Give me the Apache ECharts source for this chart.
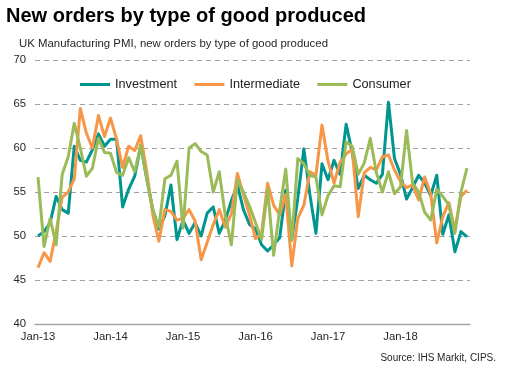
<!DOCTYPE html>
<html><head><meta charset="utf-8">
<script src="https://cdn.jsdelivr.net/npm/echarts@6/dist/echarts.min.js"></script>
<style>html,body{margin:0;padding:0;background:#fff}#c{width:508px;height:371px}</style>
</head><body><div id="c"></div>
<script>
const years = ['13', '14', '15', '16', '17', '18'];
const monthNames = ['Jan', 'Feb', 'Mar', 'Apr', 'May', 'Jun', 'Jul', 'Aug', 'Sep', 'Oct', 'Nov', 'Dec'];
const categories = [];
years.forEach(y => monthNames.forEach(m => categories.push(m + '-' + y)));

const investment = [
  50.0, 50.5, 51.5, 54.5, 53.0, 52.6, 60.2, 58.6, 58.4, 59.8, 61.6, 60.2,
  61.0, 61.0, 53.3, 55.3, 56.8, 60.3, 56.5, 53.0, 50.8, 52.3, 55.8, 49.6,
  51.8, 50.3, 51.5, 50.0, 52.6, 53.3, 50.3, 51.8, 54.0, 55.8, 53.0, 51.3,
  50.8, 49.0, 48.3, 49.0, 49.8, 55.2, 49.6, 54.3, 59.9, 54.7, 50.3, 58.2,
  56.4, 58.6, 57.0, 62.7, 59.5, 55.4, 56.9, 56.4, 56.0, 57.0, 65.2, 58.8,
  57.0, 54.2, 55.5, 56.9, 56.0, 54.6, 56.9, 50.2, 52.4, 48.2, 50.5, 49.9
];
const intermediate = [
  46.4, 48.1, 47.1, 50.5, 54.4, 55.0, 56.5, 64.5, 61.7, 60.0, 63.7, 61.3,
  63.4, 61.0, 57.8, 60.2, 59.7, 61.4, 57.3, 52.4, 49.4, 53.0, 52.8, 51.8,
  52.0, 53.0, 51.7, 47.3, 49.3, 51.3, 53.0, 51.0, 52.5, 57.1, 54.7, 52.4,
  49.7, 50.3, 56.0, 53.5, 52.4, 54.7, 46.6, 52.0, 53.5, 57.3, 56.9, 62.6,
  58.5, 56.0, 58.4, 59.3, 59.9, 52.2, 57.2, 57.8, 57.5, 59.0, 59.2, 57.5,
  56.2, 55.5, 55.8, 54.1, 56.7, 54.8, 49.2, 52.2, 53.8, 50.7, 54.5, 55.2
];
const consumer = [
  56.7, 48.8, 52.0, 49.0, 57.0, 59.0, 62.8, 60.0, 56.8, 57.7, 61.1, 59.5,
  59.4, 57.2, 56.9, 58.9, 57.3, 60.3, 56.5, 53.0, 51.0, 56.5, 56.9, 58.5,
  50.9, 60.0, 60.5, 59.6, 59.2, 55.0, 57.3, 52.3, 49.0, 56.4, 55.0, 53.4,
  51.5, 49.6, 55.3, 47.8, 53.0, 57.6, 49.5, 58.8, 58.2, 56.9, 56.7, 52.4,
  54.6, 55.7, 55.6, 60.7, 60.2, 57.0, 58.3, 61.1, 57.2, 55.0, 57.3, 54.8,
  55.6, 62.0, 56.0, 55.0, 52.7, 51.8, 55.3, 54.5, 53.5, 50.3, 55.0, 57.7
];
const seriesNames = ['Investment', 'Intermediate', 'Consumer'];
const seriesValues = [investment, intermediate, consumer];
const colors = ['#00958f', '#f79646', '#9bbb59'];
const yMin = 40, yMax = 70, yStep = 5;

const FONT = "'Liberation Sans', Arial, sans-serif";
const chart = echarts.init(document.getElementById('c'), null, {renderer: 'canvas'});
chart.setOption({
  animation: false,
  backgroundColor: '#fff',
  textStyle: {fontFamily: FONT},
  title: [
    {text: 'New orders by type of good produced', left: 6, top: 6, padding: 0,
     textStyle: {fontFamily: FONT, fontSize: 20, fontWeight: 'bold', color: '#000'}},
    {text: 'UK Manufacturing PMI, new orders by type of good produced', left: 19, top: 38, padding: 0,
     textStyle: {fontFamily: FONT, fontSize: 11.4, fontWeight: 'normal', color: '#262626'}},
    {text: 'Source: IHS Markit, CIPS.', right: 12, top: 353, padding: 0,
     textStyle: {fontFamily: FONT, fontSize: 10, fontWeight: 'normal', color: '#262626'}}
  ],
  legend: {
    data: seriesNames, left: 80, top: 78, padding: 0,
    icon: 'rect', itemWidth: 30, itemHeight: 3, itemGap: 17.4,
    textStyle: {fontFamily: FONT, fontSize: 12.7, color: '#222'}
  },
  grid: {left: 35, right: 38, top: 60, bottom: 47, containLabel: false},
  xAxis: {
    type: 'category', data: categories, boundaryGap: true,
    axisLine: {lineStyle: {color: '#a6a6a6', width: 1.3}},
    axisTick: {interval: 11, length: 3, lineStyle: {color: '#a6a6a6'}},
    axisLabel: {interval: 11, margin: 7, fontFamily: FONT, fontSize: 11.3, color: '#262626'},
    splitLine: {show: false}
  },
  yAxis: {
    type: 'value', min: yMin, max: yMax, interval: yStep,
    axisLine: {show: false}, axisTick: {show: false},
    axisLabel: {margin: 9, fontFamily: FONT, fontSize: 11.3, color: '#262626'},
    splitLine: {showMinLine: false, lineStyle: {color: '#a0a0a0', width: 1.2, type: [5, 4]}}
  },
  series: seriesNames.map((n, i) => ({
    name: n, type: 'line', data: seriesValues[i], symbol: 'none',
    color: colors[i], lineStyle: {width: 3, color: colors[i], join: 'round'}
  }))
});
</script></body></html>
